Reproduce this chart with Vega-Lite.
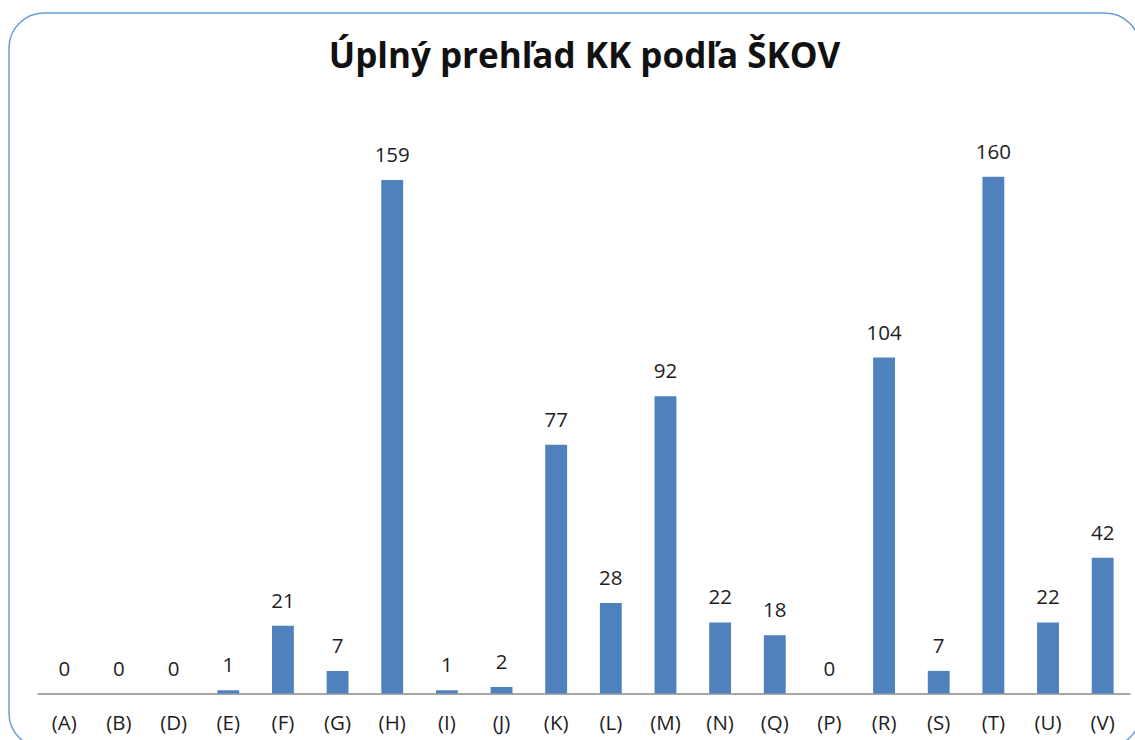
{
  "$schema": "https://vega.github.io/schema/vega-lite/v6.json",
  "autosize": {"type": "none"},
  "padding": {"left": 9, "top": 13, "right": 0, "bottom": 0},
  "width": 1131,
  "height": 735,
  "background": "white",
  "config": {
    "view": {"stroke": "#6b9fd4", "strokeWidth": 1.5, "cornerRadius": 35},
    "font": "Open Sans"
  },
  "title": {
    "text": "Úplný prehľad KK podľa ŠKOV",
    "anchor": "middle",
    "frame": "group",
    "font": "Open Sans",
    "fontSize": 35,
    "fontWeight": "bold",
    "color": "#111111",
    "offset": -62,
    "dx": 10
  },
  "data": {
    "values": [
      {"cat": "(A)", "count": 0},
      {"cat": "(B)", "count": 0},
      {"cat": "(D)", "count": 0},
      {"cat": "(E)", "count": 1},
      {"cat": "(F)", "count": 21},
      {"cat": "(G)", "count": 7},
      {"cat": "(H)", "count": 159},
      {"cat": "(I)", "count": 1},
      {"cat": "(J)", "count": 2},
      {"cat": "(K)", "count": 77},
      {"cat": "(L)", "count": 28},
      {"cat": "(M)", "count": 92},
      {"cat": "(N)", "count": 22},
      {"cat": "(Q)", "count": 18},
      {"cat": "(P)", "count": 0},
      {"cat": "(R)", "count": 104},
      {"cat": "(S)", "count": 7},
      {"cat": "(T)", "count": 160},
      {"cat": "(U)", "count": 22},
      {"cat": "(V)", "count": 42}
    ]
  },
  "encoding": {
    "x": {
      "field": "cat",
      "type": "nominal",
      "sort": null,
      "scale": {"range": [28, 1121], "paddingInner": 0.6, "paddingOuter": 0.3},
      "axis": {
        "title": null,
        "ticks": false,
        "labelAngle": 0,
        "labelFont": "Open Sans",
        "labelFontSize": 20.5,
        "labelColor": "#1e1e1e",
        "labelPadding": 20,
        "domainColor": "#8a8a8a",
        "domainWidth": 1.5,
        "offset": -54.5,
        "grid": false
      }
    },
    "y": {
      "field": "count",
      "type": "quantitative",
      "scale": {"domain": [-16.87, 210.68], "nice": false, "zero": false},
      "axis": null
    }
  },
  "layer": [
    {"mark": {"type": "bar", "color": "#4f81bd"}},
    {
      "mark": {"type": "text", "baseline": "alphabetic", "dy": -18, "fontSize": 20.5, "font": "Open Sans", "color": "#1e1e1e"},
      "encoding": {"text": {"field": "count", "type": "quantitative"}}
    }
  ]
}
